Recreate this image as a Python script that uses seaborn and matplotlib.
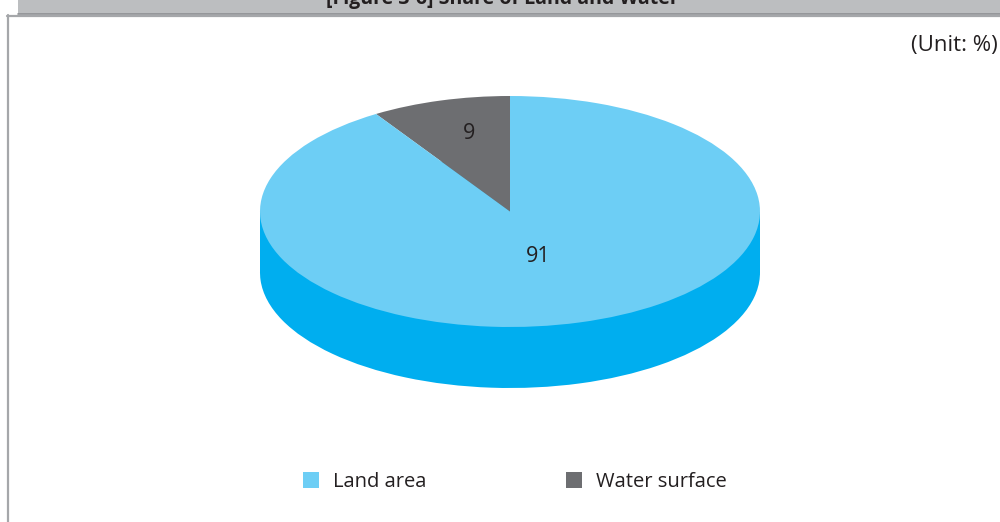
import numpy as np
import matplotlib
matplotlib.use("Agg")
import matplotlib.pyplot as plt
from matplotlib.patches import Rectangle, Patch
from matplotlib.lines import Line2D
import seaborn as sns

# Share of land and water (unit: %)
categories = ["Water surface", "Land area"]
shares = [9, 91]
legend_order = ["Land area", "Water surface"]
title_text = "[Figure 3-6] Share of Land and Water"
unit_text = "(Unit: %)"

top_colors = {"Land area": "#6DCEF5", "Water surface": "#6D6E71"}
side_colors = {"Land area": "#00AEEF", "Water surface": "#55565A"}

sns.set_theme(style="white")
plt.rcParams["font.family"] = ["Open Sans", "DejaVu Sans"]

W, H = 1000, 522
fig = plt.figure(figsize=(W / 100, H / 100), dpi=100)
fig.patch.set_facecolor("white")

# Full-figure overlay in pixel coordinates for the frame and header bar
frame = fig.add_axes([0, 0, 1, 1])
frame.set_xlim(0, W)
frame.set_ylim(H, 0)
frame.axis("off")
frame.add_patch(Rectangle((18, 0), W - 18, 14, facecolor="#BCBEC0", edgecolor="none", zorder=1))
frame.add_line(Line2D([18, W], [14, 14], color="#8E9093", lw=1.2, zorder=2))
frame.add_line(Line2D([7, W], [15.5, 15.5], color="#A5A7AA", lw=1.6, zorder=2))
frame.add_line(Line2D([7.5, 7.5], [15, H], color="#A5A7AA", lw=1.6, zorder=2))
frame.text(502, 4, title_text, ha="center", va="baseline", fontsize=14,
           fontweight="bold", color="#231F20", zorder=3)
frame.text(998, 46, unit_text, ha="right", va="center", fontsize=16, color="#231F20")

# Pie axes: unit circle squashed into an ellipse (a=250px, b=115.5px)
a_px, b_px = 250.0, 115.5
cx, cy = 510.0, 211.5
depth = 61.0 / b_px
xlo, xhi = -1.05, 1.05
ylo, yhi = -1.0 - depth - 0.08, 1.06
left_px = cx + xlo * a_px
width_px = (xhi - xlo) * a_px
top_px = cy - yhi * b_px
height_px = (yhi - ylo) * b_px
ax = fig.add_axes([left_px / W, (H - top_px - height_px) / H, width_px / W, height_px / H])

# Side wall of the disc
ax.pie(shares, startangle=90, counterclock=True, center=(0, -depth),
       colors=[side_colors[c] for c in categories],
       wedgeprops=dict(linewidth=0, zorder=1))
ax.add_patch(Rectangle((-1, -depth), 2, depth, facecolor=side_colors["Land area"],
                       edgecolor="none", zorder=1))
# Top face
wedges, _ = ax.pie(shares, startangle=90, counterclock=True, center=(0, 0),
                   colors=[top_colors[c] for c in categories],
                   wedgeprops=dict(linewidth=0, zorder=3))
ax.set_aspect("auto")
ax.set_xlim(xlo, xhi)
ax.set_ylim(ylo, yhi)
ax.axis("off")

label_radius = {"Water surface": 0.70, "Land area": 0.41}
label_shift = {"Water surface": 0.03, "Land area": 0.0}
for wedge, cat, val in zip(wedges, categories, shares):
    mid = np.deg2rad((wedge.theta1 + wedge.theta2) / 2)
    r = label_radius[cat]
    ax.text(r * np.cos(mid) + label_shift[cat], r * np.sin(mid), f"{val}",
            ha="center", va="center", fontsize=15.5, color="#231F20", zorder=5)

handles = [Patch(facecolor=top_colors[c], edgecolor="none") for c in legend_order]
fig.legend(handles, legend_order, loc="center", bbox_to_anchor=(515 / W, 1 - 482 / H),
           ncol=2, frameon=False, fontsize=14.5, handlelength=0.8, handleheight=0.8,
           handletextpad=0.7, columnspacing=6.9, labelcolor="#231F20")

fig.savefig("out.png", dpi=100, facecolor="white")
